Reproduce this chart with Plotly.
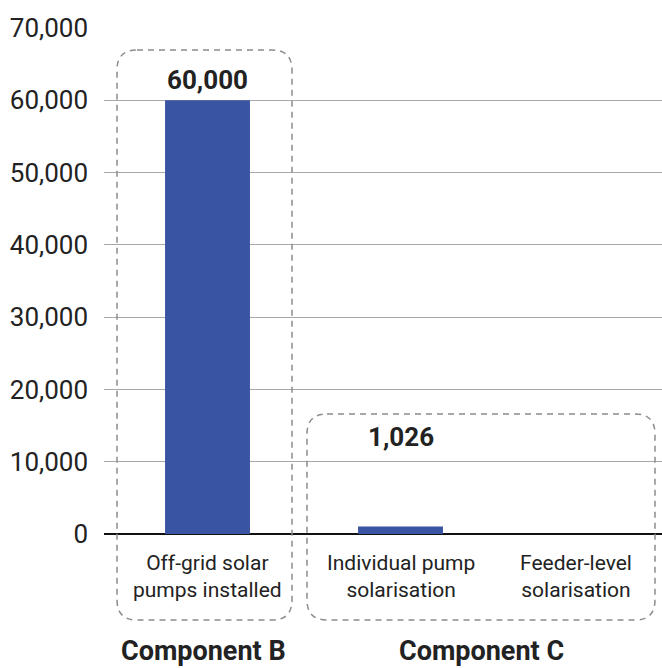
import plotly.graph_objects as go

# Data
categories = ["Off-grid solar<br>pumps installed",
              "Individual pump<br>solarisation",
              "Feeder-level<br>solarisation"]
values = [60000, 1026, 0]
value_labels = ["60,000", "1,026", None]
components = ["Component B", "Component C"]
y_ticks = [0, 10000, 20000, 30000, 40000, 50000, 60000, 70000]

# Figure geometry (pixels)
FIG_W, FIG_H = 662, 668
L, R, T, B = 104, 662, 28, 534
PW, PH = R - L, B - T

BAR_COLOR = "#3A54A4"
BOX_COLOR = "#8C8C8C"
TEXT = "#222222"
FONT = "Roboto"


def xp(px):
    return (px - L) / PW


def yp(py):
    return (B - py) / PH


def rounded_box(x0, y0, x1, y1, r):
    """Rounded rectangle path in paper coordinates from pixel corners."""
    pts = [
        f"M {xp(x0 + r)},{yp(y0)}",
        f"L {xp(x1 - r)},{yp(y0)}",
        f"Q {xp(x1)},{yp(y0)} {xp(x1)},{yp(y0 + r)}",
        f"L {xp(x1)},{yp(y1 - r)}",
        f"Q {xp(x1)},{yp(y1)} {xp(x1 - r)},{yp(y1)}",
        f"L {xp(x0 + r)},{yp(y1)}",
        f"Q {xp(x0)},{yp(y1)} {xp(x0)},{yp(y1 - r)}",
        f"L {xp(x0)},{yp(y0 + r)}",
        f"Q {xp(x0)},{yp(y0)} {xp(x0 + r)},{yp(y0)}",
        "Z",
    ]
    return " ".join(pts)


x_idx = list(range(len(categories)))

fig = go.Figure(
    go.Bar(
        x=x_idx,
        y=values,
        width=0.44,
        marker=dict(color=BAR_COLOR, line=dict(width=0)),
        hovertext=[c.replace("<br>", " ") for c in categories],
        hoverinfo="text+y",
    )
)

# Dashed rounded group frames
group_boxes = [(117, 50, 292, 620), (307, 414, 655, 620)]
shapes = [
    dict(type="path", xref="paper", yref="paper",
         path=rounded_box(*bx, 20),
         line=dict(color=BOX_COLOR, width=1.5, dash="6px,5px"),
         layer="above")
    for bx in group_boxes
]

annotations = []

# Value labels above the bars
for i, (v, lab) in enumerate(zip(values, value_labels)):
    if lab is None:
        continue
    label_y = v if v > 20000 else 10650
    annotations.append(dict(
        x=i, y=label_y, xref="x", yref="y", text=f"<b>{lab}</b>",
        showarrow=False, xanchor="center", yanchor="bottom", yshift=3,
        font=dict(family=FONT, size=26, color=TEXT)))

# Category labels below the axis
label_x = [0, 1, 1.91]
for cx, cat in zip(label_x, categories):
    annotations.append(dict(
        x=cx, y=yp(549), xref="x", yref="paper", text=cat,
        showarrow=False, xanchor="center", yanchor="top", align="center",
        font=dict(family=FONT, size=21, color=TEXT)))

# Component group titles
comp_x = [203.5, 481]
for cx, comp in zip(comp_x, components):
    annotations.append(dict(
        x=xp(cx), y=yp(651), xref="paper", yref="paper",
        text=f"<b>{comp}</b>", showarrow=False,
        xanchor="center", yanchor="middle",
        font=dict(family=FONT, size=27, color=TEXT)))

fig.update_layout(
    width=FIG_W, height=FIG_H,
    margin=dict(l=L, r=FIG_W - R, t=T, b=FIG_H - B, pad=0),
    paper_bgcolor="white", plot_bgcolor="white",
    showlegend=False,
    shapes=shapes,
    annotations=annotations,
    xaxis=dict(range=[-0.5363, 2.3549], showticklabels=False,
               showgrid=False, zeroline=False, showline=False,
               fixedrange=True),
    yaxis=dict(range=[0, 70000], tickvals=y_ticks, tickformat=",",
               showgrid=True, gridcolor="#A8A8A8", gridwidth=1,
               zeroline=True, zerolinecolor="#111111", zerolinewidth=2,
               showline=False, ticks="", ticklabelstandoff=15,
               tickfont=dict(family=FONT, size=26, color=TEXT),
               fixedrange=True),
    font=dict(family=FONT, color=TEXT),
)

fig.write_html("out.html")
